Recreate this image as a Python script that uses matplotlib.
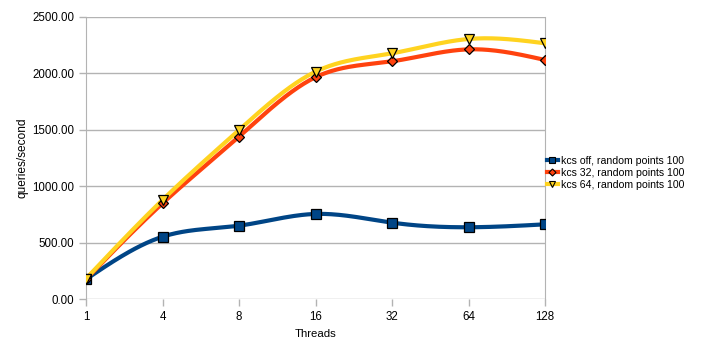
import numpy as np
import matplotlib
matplotlib.use("Agg")
import matplotlib.pyplot as plt

threads = ["1", "4", "8", "16", "32", "64", "128"]
kcs_off = [175, 552, 650, 754, 677, 636, 662]
kcs_32 = [175, 848, 1439, 1966, 2107, 2213, 2119]
kcs_64 = [180, 878, 1498, 2015, 2178, 2305, 2267]

series = [
    ("kcs off, random points 100", kcs_off, "#004586", "s", 7),
    ("kcs 32, random points 100", kcs_32, "#ff420e", "D", 5.5),
    ("kcs 64, random points 100", kcs_64, "#ffd320", "v", 7.5),
]


def natural_spline(x, y, n=40):
    # natural cubic spline through the points, for the smoothed line
    x = np.asarray(x, float)
    y = np.asarray(y, float)
    k = len(x)
    h = np.diff(x)
    A = np.zeros((k, k))
    b = np.zeros(k)
    A[0, 0] = A[-1, -1] = 1
    for i in range(1, k - 1):
        A[i, i - 1] = h[i - 1]
        A[i, i] = 2 * (h[i - 1] + h[i])
        A[i, i + 1] = h[i]
        b[i] = 3 * ((y[i + 1] - y[i]) / h[i] - (y[i] - y[i - 1]) / h[i - 1])
    c = np.linalg.solve(A, b)
    xs, ys = [], []
    for i in range(k - 1):
        bi = (y[i + 1] - y[i]) / h[i] - h[i] * (2 * c[i] + c[i + 1]) / 3
        di = (c[i + 1] - c[i]) / (3 * h[i])
        t = np.linspace(0, h[i], n)
        xs.append(x[i] + t)
        ys.append(y[i] + bi * t + c[i] * t ** 2 + di * t ** 3)
    return np.concatenate(xs), np.concatenate(ys)


plt.rcParams["font.family"] = ["Liberation Sans", "DejaVu Sans"]

fig = plt.figure(figsize=(7.04, 3.49), dpi=100)
ax = fig.add_axes([86 / 704, 1 - 299 / 349, 459 / 704, 282 / 349])

pos = np.arange(len(threads))
for label, vals, color, marker, ms in series:
    sx, sy = natural_spline(pos, vals)
    ax.plot(sx, sy, color=color, lw=3.0, solid_capstyle="round", zorder=2)
    ax.plot(pos, vals, linestyle="none", marker=marker, ms=ms,
            mfc=color, mec="black", mew=0.9, zorder=3)
    ax.plot([], [], color=color, lw=3.0, marker=marker, ms=ms * 0.65,
            mfc=color, mec="black", mew=0.8, label=label)

ax.set_xlim(0, len(threads) - 1)
ax.set_ylim(0, 2500)
ax.set_xticks(pos)
ax.set_xticklabels(threads)
ax.set_yticks(np.arange(0, 2501, 500))
ax.set_yticklabels(["{:.2f}".format(v) for v in np.arange(0, 2501, 500)])
ax.yaxis.grid(True, color="#b3b3b3", lw=1)
ax.set_axisbelow(True)
for side in ["top", "bottom"]:
    ax.spines[side].set_visible(False)
for side in ["left", "right"]:
    ax.spines[side].set_color("#b3b3b3")
ax.tick_params(axis="both", colors="#b3b3b3", labelcolor="black",
               labelsize=8.3, length=5, width=1)
ax.tick_params(axis="x", pad=4)
ax.set_xlabel("Threads", fontsize=8.2, labelpad=4)
ax.set_ylabel("queries/second", fontsize=8.6, labelpad=3)
ax.legend(loc="center left", bbox_to_anchor=(546 / 704, 1 - 173 / 349),
          bbox_transform=fig.transFigure, frameon=False,
          fontsize=7.6, handlelength=1.0, handletextpad=0.3,
          labelspacing=0.2, borderaxespad=0, borderpad=0.1)

fig.savefig("out.png", dpi=100)
